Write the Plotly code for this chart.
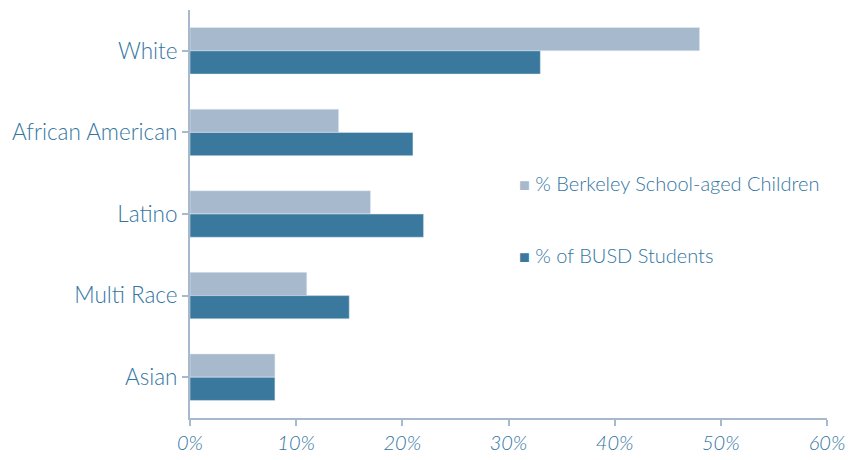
import plotly.graph_objects as go

categories = ["White", "African American", "Latino", "Multi Race", "Asian"]
children_pct = [48, 14, 17, 11, 8]
busd_pct = [33, 21, 22, 15, 8]
x_ticks = [0, 10, 20, 30, 40, 50, 60]
series_names = ["% Berkeley School-aged Children", "% of BUSD Students"]

LIGHT = "#a6b9cd"
DARK = "#3a799d"
TEXT = "#33769f"
FONT = "Lato"

fig = go.Figure()
fig.add_trace(go.Bar(
    y=categories, x=children_pct, orientation="h",
    name=series_names[0], marker=dict(color=LIGHT),
))
fig.add_trace(go.Bar(
    y=categories, x=busd_pct, orientation="h",
    name=series_names[1], marker=dict(color=DARK),
))

# legend drawn as text with a coloured square
for name, color, ypix in [(series_names[0], LIGHT, 183), (series_names[1], DARK, 255)]:
    fig.add_annotation(
        xref="paper", yref="paper",
        x=(517 - 190) / 637, y=(418 - ypix) / 408,
        xanchor="left", yanchor="middle", showarrow=False,
        text=f"<span style='color:{color};font-size:18px'>■</span> {name}",
        font=dict(family=FONT, size=20, color=TEXT, weight=300),
    )

# page body has an 8px margin, so the figure is a bit smaller than the window
fig.update_layout(
    width=853, height=452,
    margin=dict(l=182, r=34, t=2, b=42),
    barmode="group", bargap=0.43, bargroupgap=0,
    plot_bgcolor="white", paper_bgcolor="white",
    font=dict(family=FONT, color=TEXT, size=19),
    showlegend=False,
)
fig.update_xaxes(
    range=[0, 60], tickvals=x_ticks, ticktext=[f"{v}%" for v in x_ticks],
    showgrid=False, zeroline=False, automargin=False,
    showline=True, linecolor=LIGHT, linewidth=2,
    ticks="outside", ticklen=6, tickcolor=LIGHT, tickwidth=2,
    tickfont=dict(size=20, style="italic", color=TEXT, weight=300),
)
fig.update_yaxes(
    autorange="reversed", automargin=False,
    showgrid=False, zeroline=False,
    showline=True, linecolor=LIGHT, linewidth=2,
    ticks="outside", ticklen=6, tickcolor=LIGHT, tickwidth=2,
    tickfont=dict(size=22.5, color=TEXT, weight=300),
)

fig.write_html("out.html")
